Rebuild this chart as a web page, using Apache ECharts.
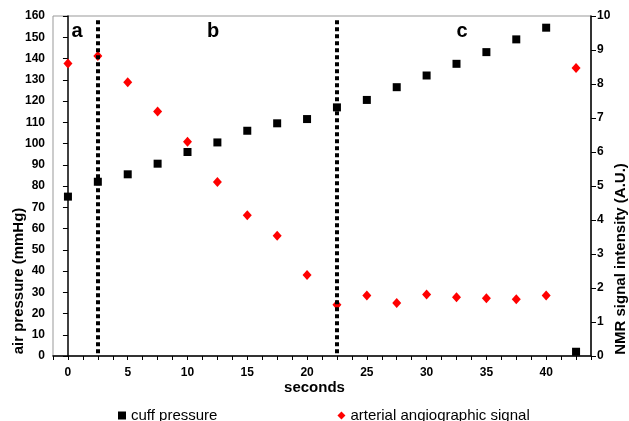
<!DOCTYPE html>
<html>
<head>
<meta charset="utf-8">
<script src="https://cdn.jsdelivr.net/npm/echarts@6/dist/echarts.min.js"></script>
<style>
  html, body { margin: 0; padding: 0; background: #fff; }
  #chart { width: 629px; height: 421px; }
</style>
</head>
<body>
<div id="chart"></div>
<script>
// time points (seconds)
const seconds = [0, 2.5, 5, 7.5, 10, 12.5, 15, 17.5, 20, 22.5, 25, 27.5, 30, 32.5, 35, 37.5, 40, 42.5]
// cuff pressure, mmHg (left axis)
const cuffPressure = [75, 82, 85.5, 90.5, 96, 100.5, 106, 109.5, 111.5, 117, 120.5, 126.5, 132, 137.5, 143, 149, 154.5, 2]
// arterial angiographic signal, A.U. (right axis)
const arterialSignal = [8.6, 8.82, 8.05, 7.19, 6.3, 5.12, 4.14, 3.54, 2.38, 1.51, 1.78, 1.56, 1.81, 1.73, 1.7, 1.67, 1.78, 8.47]
// phase boundaries
const phaseLines = [2.5, 22.5]
const phaseLabels = [{ t: 'a', x: 77 }, { t: 'b', x: 213 }, { t: 'c', x: 462 }]

const font = 'Liberation Sans, Arial, sans-serif'

const chart = echarts.init(document.getElementById('chart'))

chart.setOption({
  animation: false,
  backgroundColor: '#fff',
  textStyle: { fontFamily: font },
  grid: {
    left: 53,
    right: 38,
    top: 16,
    bottom: 65,
    show: true,
    borderColor: '#999',
    borderWidth: 1
  },
  legend: {
    left: 113,
    top: 403,
    itemWidth: 8,
    itemHeight: 8,
    itemGap: 120,
    textStyle: { fontSize: 15, color: '#000', fontFamily: font },
    data: [
      { name: 'cuff pressure', icon: 'rect' },
      { name: 'arterial angiographic signal', icon: 'diamond' }
    ]
  },
  xAxis: {
    type: 'value',
    min: -1.25,
    max: 43.75,
    interval: 1.25,
    axisLine: { lineStyle: { color: '#000', width: 1.5 } },
    axisTick: { length: 4, lineStyle: { color: '#000' } },
    splitLine: { show: false },
    axisLabel: {
      margin: 11,
      fontSize: 12,
      fontWeight: 'bold',
      color: '#000',
      formatter: (v) => (v >= 0 && Math.abs(v % 5) < 1e-6 ? String(v) : '')
    }
  },
  yAxis: [
    {
      type: 'value',
      min: 0,
      max: 160,
      interval: 10,
      axisLine: { show: true, lineStyle: { color: '#000', width: 1.5 } },
      axisTick: { show: true, length: 5, lineStyle: { color: '#000' } },
      splitLine: { show: false },
      axisLabel: { margin: 8, fontSize: 12, fontWeight: 'bold', color: '#000' }
    },
    {
      type: 'value',
      min: 0,
      max: 10,
      interval: 1,
      position: 'right',
      axisLine: { show: true, lineStyle: { color: '#000', width: 1.5 } },
      axisTick: { show: true, length: 5, lineStyle: { color: '#000' } },
      splitLine: { show: false },
      axisLabel: { margin: 6, fontSize: 12, fontWeight: 'bold', color: '#000' }
    }
  ],
  graphic: [
    {
      type: 'text', left: 'center', top: 380,
      style: { text: 'seconds', font: 'bold 15px ' + font, fill: '#000' }
    },
    {
      type: 'text', x: 18.5, y: 281, rotation: Math.PI / 2,
      style: { text: 'air pressure (mmHg)', font: 'bold 15px ' + font, fill: '#000', align: 'center', verticalAlign: 'middle' }
    },
    {
      type: 'text', x: 621, y: 259, rotation: Math.PI / 2,
      style: { text: 'NMR signal intensity (A.U.)', font: 'bold 15px ' + font, fill: '#000', align: 'center', verticalAlign: 'middle' }
    }
  ].concat(phaseLabels.map((p) => ({
    type: 'text', x: p.x, y: 31,
    style: { text: p.t, font: 'bold 20px ' + font, fill: '#000', align: 'center', verticalAlign: 'middle' }
  }))),
  series: [
    {
      name: 'cuff pressure',
      type: 'scatter',
      yAxisIndex: 0,
      symbol: 'rect',
      symbolSize: 8,
      itemStyle: { color: '#000', opacity: 1 },
      data: seconds.map((s, i) => [s, cuffPressure[i]]),
      markLine: {
        silent: true,
        symbol: 'none',
        label: { show: false },
        lineStyle: { color: '#000', type: [4, 3], width: 4, opacity: 1 },
        data: phaseLines.map((x) => [{ coord: [x, 158] }, { coord: [x, 0] }])
      },
      z: 3
    },
    {
      name: 'arterial angiographic signal',
      type: 'scatter',
      yAxisIndex: 1,
      symbol: 'diamond',
      symbolSize: [9, 10],
      itemStyle: { color: '#f00', opacity: 1 },
      data: seconds.map((s, i) => [s, arterialSignal[i]]),
      z: 4
    }
  ]
})
</script>
</body>
</html>
